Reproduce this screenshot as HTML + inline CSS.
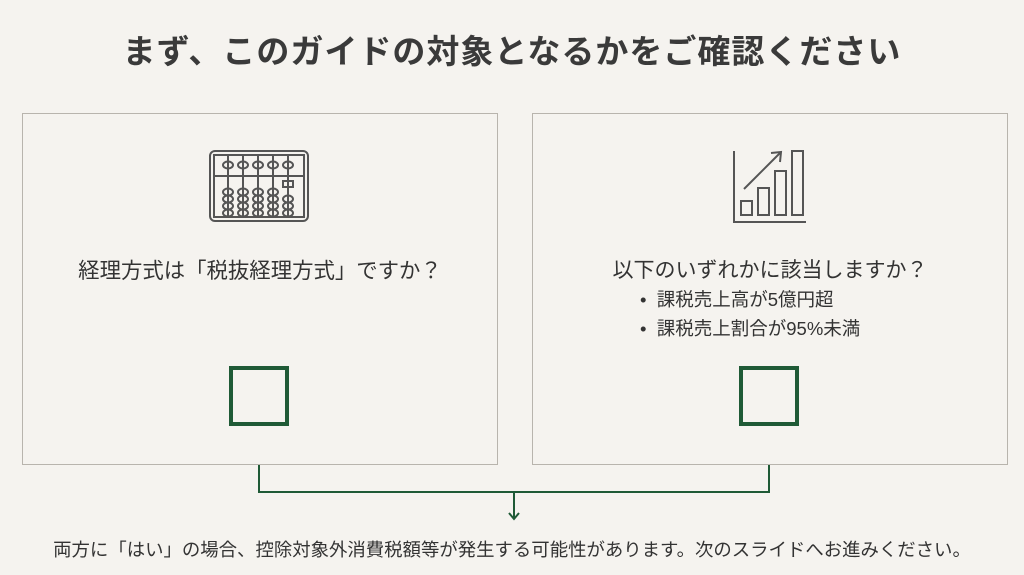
<!DOCTYPE html>
<html><head><meta charset="utf-8"><style>
body{margin:0;width:1024px;height:575px;background:#f5f3ef;font-family:"Liberation Sans","Noto Sans CJK JP",sans-serif;color:#333;position:relative;overflow:hidden}
.t{position:absolute;white-space:nowrap}
.box{position:absolute;border:1.5px solid #b8b4ad;box-sizing:border-box}
.sq{position:absolute;width:60px;height:60px;border:4px solid #1f5a36;box-sizing:border-box}
</style></head><body>
<div class="t" style="left:0;width:1024px;text-align:center;top:25px;font-size:33px;font-weight:bold;color:#3a3a3a;letter-spacing:1px">まず、このガイドの対象となるかをご確認ください</div>
<div class="box" style="left:22px;top:113px;width:476px;height:352px"></div>
<div class="box" style="left:532px;top:113px;width:476px;height:352px"></div>
<svg style="position:absolute;left:0;top:0" width="1024" height="575">
<g fill="none" stroke="#555" stroke-width="2">
<rect x="210" y="151" width="98" height="70" rx="5"/>
<rect x="214" y="155" width="90" height="62"/>
<line x1="214" y1="176" x2="304" y2="176"/>
<g id="c">
<line x1="228" y1="155" x2="228" y2="217"/>
<ellipse cx="228" cy="165" rx="5" ry="3.5"/>
<ellipse cx="228" cy="192" rx="5" ry="3.5"/><ellipse cx="228" cy="199" rx="5" ry="3.5"/><ellipse cx="228" cy="206" rx="5" ry="3.5"/><ellipse cx="228" cy="213" rx="5" ry="3.5"/>
</g>
<use href="#c" x="15"/><use href="#c" x="30"/><use href="#c" x="45"/>
<line x1="288" y1="155" x2="288" y2="217"/>
<ellipse cx="288" cy="165" rx="5" ry="3.5"/><rect x="283" y="181" width="10" height="6"/>
<ellipse cx="288" cy="199" rx="5" ry="3.5"/><ellipse cx="288" cy="206" rx="5" ry="3.5"/><ellipse cx="288" cy="213" rx="5" ry="3.5"/>
</g>
<g fill="none" stroke="#555" stroke-width="2">
<polyline points="734,151 734,222 806,222"/>
<rect x="741" y="201" width="11" height="14"/>
<rect x="758" y="188" width="11" height="27"/>
<rect x="775" y="171" width="11" height="44"/>
<rect x="792" y="151" width="11" height="64"/>
<line x1="744" y1="189" x2="780" y2="153"/>
<polyline points="771,153 781,152 780,162"/>
</g>
<g fill="none" stroke="#1f5a36" stroke-width="2">
<polyline points="259,465 259,492 769,492 769,465"/>
<line x1="514" y1="492" x2="514" y2="518"/>
<polyline points="509,513 514,519 519,513"/>
</g>
</svg>
<div class="t" style="left:22px;width:476px;text-align:center;top:254px;font-size:21.4px">経理方式は「税抜経理方式」ですか？</div>
<div class="t" style="left:532px;width:476px;text-align:center;top:254px;font-size:21px">以下のいずれかに該当しますか？</div>
<div class="t" style="left:640px;top:285px;font-size:18.5px;line-height:29px">•&nbsp; 課税売上高が5億円超<br>•&nbsp; 課税売上割合が95%未満</div>
<div class="sq" style="left:229px;top:366px"></div>
<div class="sq" style="left:739px;top:366px"></div>
<div class="t" style="left:0;width:1024px;text-align:center;top:536px;font-size:18.4px">両方に「はい」の場合、控除対象外消費税額等が発生する可能性があります。次のスライドへお進みください。</div>
</body></html>
